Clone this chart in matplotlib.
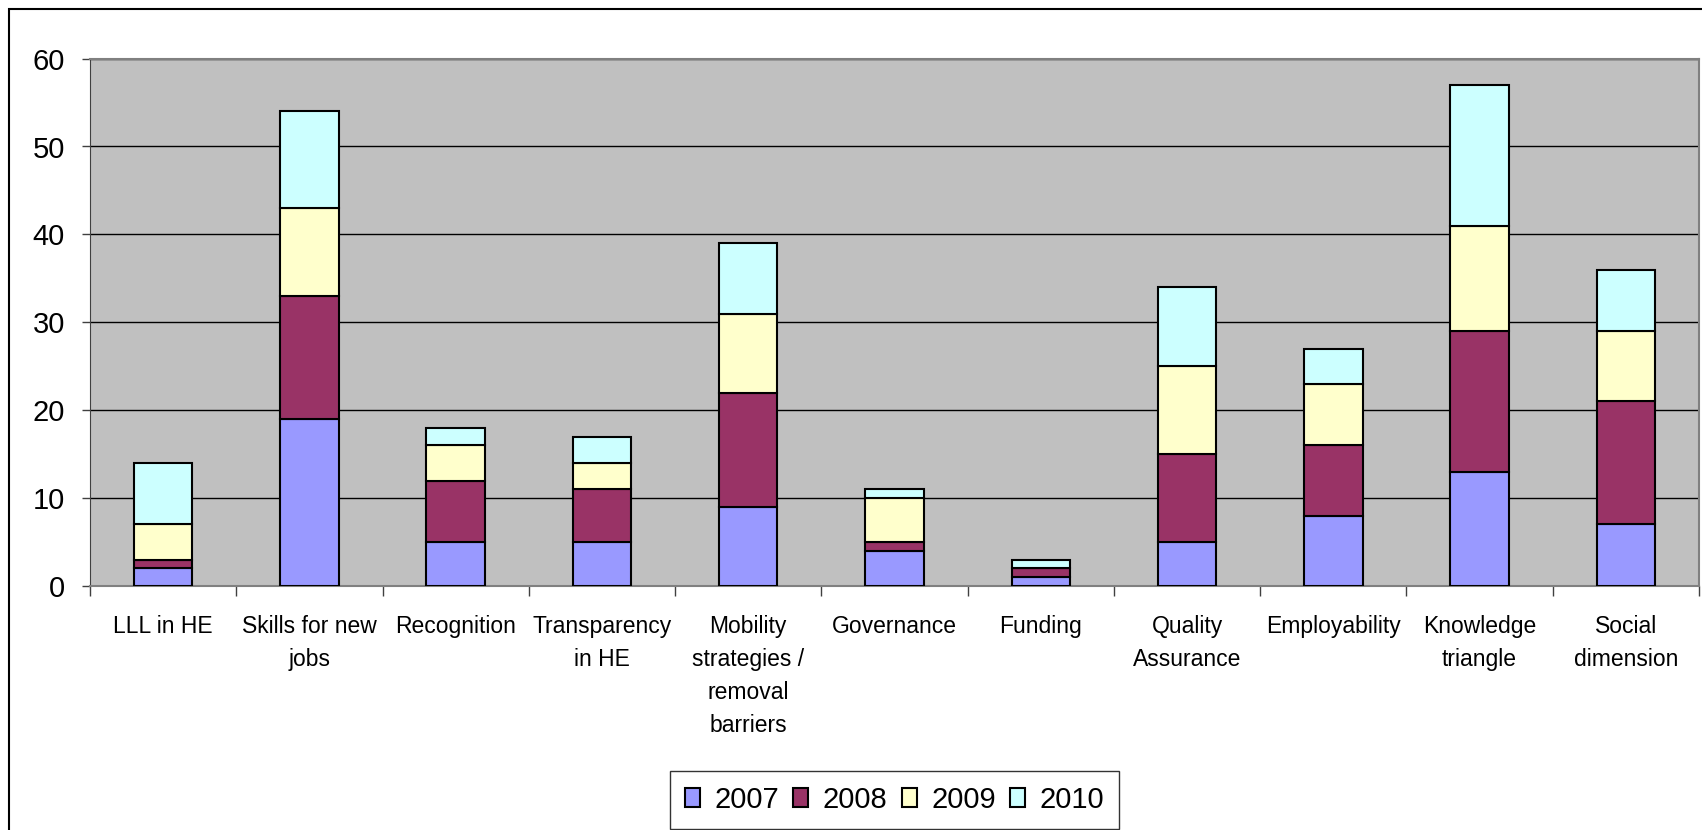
import numpy as np
import matplotlib
matplotlib.use("Agg")
import matplotlib.pyplot as plt
from matplotlib.patches import Rectangle

plt.rcParams['font.family'] = ['Liberation Sans', 'DejaVu Sans']

categories = ["LLL in HE", "Skills for new\njobs", "Recognition", "Transparency\nin HE",
              "Mobility\nstrategies /\nremoval\nbarriers", "Governance", "Funding",
              "Quality\nAssurance", "Employability", "Knowledge\ntriangle", "Social\ndimension"]
years = ["2007", "2008", "2009", "2010"]
y2007 = [2, 19, 5, 5, 9, 4, 1, 5, 8, 13, 7]
y2008 = [1, 14, 7, 6, 13, 1, 1, 10, 8, 16, 14]
y2009 = [4, 10, 4, 3, 9, 5, 0, 10, 7, 12, 8]
y2010 = [7, 11, 2, 3, 8, 1, 1, 9, 4, 16, 7]
colors = ["#9999FF", "#993366", "#FFFFCC", "#CCFFFF"]

fig = plt.figure(figsize=(17.02, 8.30), dpi=100)
ax = fig.add_axes([90 / 1702, (830 - 586) / 830, (1699 - 90) / 1702, (586 - 58.6) / 830])
ax.set_facecolor("#C0C0C0")

x = np.arange(len(categories))
bottom = np.zeros(len(categories))
for vals, col, lab in zip([y2007, y2008, y2009, y2010], colors, years):
    ax.bar(x, vals, width=0.4, bottom=bottom, color=col, edgecolor="black",
           linewidth=1.5, label=lab, zorder=3)
    bottom += np.array(vals)

ax.set_xlim(-0.5, len(categories) - 0.5)
ax.set_ylim(0, 60)
ax.set_yticks(range(0, 61, 10))
ax.yaxis.grid(True, color="black", linewidth=1.0, zorder=1)
ax.set_axisbelow(True)

ax.set_xticks(x)
ax.set_xticklabels(categories, fontsize=16.5, linespacing=1.55, multialignment="center")
ax.set_xticks(np.arange(-0.5, len(categories), 1), minor=True)
ax.tick_params(axis="x", which="major", length=0, pad=21)
ax.tick_params(axis="x", which="minor", length=7, width=1, color="#404040", direction="out")
ax.tick_params(axis="y", length=6, width=1, color="#404040", pad=12, labelsize=21)

for side in ["top", "right"]:
    ax.spines[side].set_color("#808080")
    ax.spines[side].set_linewidth(1.5)
ax.spines["left"].set_color("#404040")
ax.spines["bottom"].set_color("#808080")
ax.spines["bottom"].set_linewidth(1.5)

pos = ax.get_position()
leg = ax.legend(loc="center", bbox_to_anchor=(pos.x0 + pos.width / 2, (830 - 800) / 830),
                bbox_transform=fig.transFigure, ncol=4, fontsize=21, frameon=True,
                fancybox=False, edgecolor="black", handlelength=0.5, handleheight=0.62,
                handletextpad=0.5, columnspacing=0.5, borderpad=0.5)
leg.get_frame().set_linewidth(1.0)

fig.patches.append(Rectangle((9 / 1702, -0.1), 1.2, (830 - 9) / 830 + 0.1,
                             transform=fig.transFigure, fill=False, edgecolor="black",
                             linewidth=1.5))

fig.savefig("out.png", dpi=100)
